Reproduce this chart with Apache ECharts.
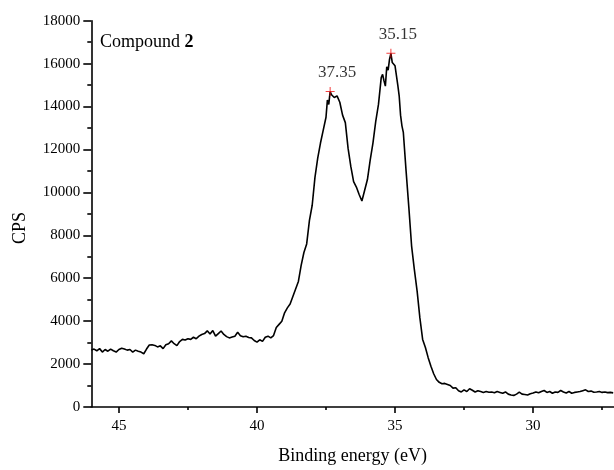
<!DOCTYPE html>
<html>
<head>
<meta charset="utf-8">
<script src="https://cdn.jsdelivr.net/npm/echarts@6/dist/echarts.min.js"></script>
<style>html,body{margin:0;padding:0;background:#fff}#c{width:614px;height:470px}</style>
</head>
<body>
<div id="c"></div>
<script>
// Binding energy (eV)
var energy = [46.0,45.9,45.8,45.7,45.6,45.5,45.4,45.3,45.2,45.1,45.0,44.9,44.8,44.7,44.6,44.5,44.4,44.3,44.2,44.1,
44.0,43.9,43.8,43.7,43.6,43.5,43.4,43.3,43.2,43.1,43.0,42.9,42.8,42.7,42.6,42.5,42.4,42.3,42.2,42.1,
42.0,41.9,41.8,41.7,41.6,41.5,41.4,41.3,41.2,41.1,41.0,40.9,40.8,40.7,40.6,40.5,40.4,40.3,40.2,40.1,
40.0,39.9,39.8,39.7,39.6,39.5,39.4,39.3,39.2,39.1,39.0,38.9,38.8,38.7,38.6,38.5,38.4,38.3,38.2,38.1,
38.0,37.9,37.8,37.7,37.6,37.5,37.45,37.4,37.35,37.3,37.2,37.1,37.0,36.9,36.8,36.7,36.6,36.5,36.4,36.3,
36.2,36.1,36.0,35.9,35.8,35.7,35.6,35.5,35.45,35.4,35.35,35.3,35.25,35.2,35.15,35.1,35.0,34.9,34.85,34.8,
34.75,34.7,34.6,34.5,34.4,34.3,34.2,34.1,34.0,33.9,33.8,33.7,33.6,33.5,33.4,33.3,33.2,33.1,33.0,32.9,
32.8,32.7,32.6,32.5,32.4,32.3,32.2,32.1,32.0,31.9,31.8,31.7,31.6,31.5,31.4,31.3,31.2,31.1,31.0,30.9,
30.8,30.7,30.6,30.5,30.4,30.3,30.2,30.1,30.0,29.9,29.8,29.7,29.6,29.5,29.4,29.3,29.2,29.1,29.0,28.9,
28.8,28.7,28.6,28.5,28.4,28.3,28.2,28.1,28.0,27.9,27.8,27.7,27.6,27.5,27.4,27.3,27.2,27.1];
// Counts per second
var cps = [2650,2700,2620,2720,2560,2680,2600,2700,2620,2560,2680,2740,2700,2650,2680,2560,2650,2600,2560,2480,
2700,2890,2900,2870,2800,2850,2720,2900,2950,3080,2950,2860,3050,3150,3120,3180,3150,3250,3180,3300,
3380,3420,3550,3400,3560,3300,3420,3540,3380,3280,3220,3260,3300,3480,3320,3270,3300,3240,3220,3100,
3020,3130,3060,3250,3300,3220,3330,3700,3850,4000,4390,4620,4800,5150,5500,5850,6600,7200,7600,8700,
9400,10700,11600,12300,12900,13500,14300,14100,14700,14550,14420,14500,14200,13600,13250,12050,11200,10500,10250,9900,
9600,10100,10600,11500,12300,13300,14100,15350,15500,15200,14950,15850,15700,16200,16480,16050,15900,15000,14500,13600,
13100,12800,11000,9300,7500,6400,5400,4150,3150,2770,2300,1900,1550,1280,1150,1080,1100,1050,1000,880,
900,760,700,800,720,850,780,700,760,720,680,720,690,700,660,720,680,640,700,600,
560,540,600,690,600,580,560,620,650,700,660,720,770,680,720,640,700,680,770,700,
650,720,640,680,700,720,760,800,720,740,690,700,720,680,700,670,680,660];
// Labelled peaks
var peakEnergy = [37.35, 35.15];
var peakCps = [14700, 16480];
var peakLabels = ['37.35', '35.15'];
// Axis ticks
var xMajorTicks = [30, 35, 40, 45];
var xMinorTicks = [27.5, 32.5, 37.5, 42.5];
var yTicks = [0,2000,4000,6000,8000,10000,12000,14000,16000,18000];

var FONT = 'Liberation Serif';
var lineData = energy.map(function (e, i) { return [e, cps[i]]; });
var peakData = peakEnergy.map(function (e, i) { return { value: [e, peakCps[i]], label: peakLabels[i] }; });

var chart = echarts.init(document.getElementById('c'), null, { renderer: 'canvas' });
chart.setOption({
  animation: false,
  backgroundColor: '#fff',
  grid: { left: 91.3, top: 20.7, right: 0, bottom: 60, containLabel: false },
  xAxis: [{
    type: 'value', inverse: true, min: 27.07, max: 46,
    position: 'bottom',
    axisLine: { show: true, lineStyle: { color: '#000', width: 1.6 } },
    axisTick: { show: true, inside: false, length: 6, customValues: xMajorTicks, lineStyle: { color: '#000', width: 1.6 } },
    axisLabel: { show: true, customValues: xMajorTicks, margin: 12, color: '#000', fontFamily: FONT, fontSize: 15 },
    splitLine: { show: false },
    name: 'Binding energy (eV)', nameLocation: 'middle', nameGap: 40,
    nameTextStyle: { color: '#000', fontFamily: FONT, fontSize: 18 }
  }, {
    type: 'value', inverse: true, min: 27.07, max: 46,
    position: 'bottom', gridIndex: 0,
    axisLine: { show: false },
    axisTick: { show: true, inside: false, length: 3, customValues: xMinorTicks, lineStyle: { color: '#000', width: 1.6 } },
    axisLabel: { show: false },
    splitLine: { show: false }
  }],
  yAxis: {
    type: 'value', min: 0, max: 18000, interval: 2000,
    axisLine: { show: true, lineStyle: { color: '#000', width: 1.6 } },
    axisTick: { show: true, inside: false, length: 8, lineStyle: { color: '#000', width: 1.6 } },
    minorTick: { show: true, splitNumber: 2, length: 4, lineStyle: { color: '#000', width: 1.6 } },
    axisLabel: { margin: 11, color: '#000', fontFamily: FONT, fontSize: 15,
      formatter: function (v) { return yTicks.indexOf(v) >= 0 ? String(v) : ''; } },
    splitLine: { show: false }, minorSplitLine: { show: false }
  },
  graphic: [
    { type: 'text', x: 100, y: 42, style: { text: 'Compound {b|2}', fill: '#000', font: '18px "Liberation Serif"',
      verticalAlign: 'middle', rich: { b: { fontWeight: 'bold', fontFamily: FONT, fontSize: 18, fill: '#000' } } } },
    { type: 'text', x: 20, y: 228, rotation: Math.PI / 2,
      style: { text: 'CPS', fill: '#000', font: '18px "Liberation Serif"', align: 'center', verticalAlign: 'middle' } }
  ],
  series: [{
    type: 'line', data: lineData, showSymbol: false, symbol: 'none',
    lineStyle: { color: '#000', width: 1.6 }, z: 2
  }, {
    type: 'scatter', data: peakData, symbol: 'path://M4,0h1v9h-1zM0,4h9v1h-9z', symbolSize: 9,
    itemStyle: { color: '#f01010' }, z: 3,
    label: { show: true, position: 'top', distance: 6, offset: [7, 0], color: '#000', fontFamily: FONT, fontSize: 17,
      formatter: function (p) { return p.data.label; } }
  }]
});
</script>
</body>
</html>
